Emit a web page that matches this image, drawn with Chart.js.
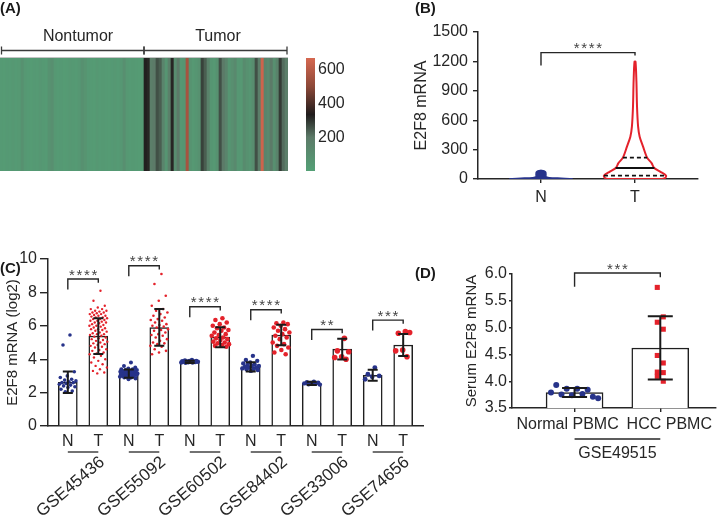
<!DOCTYPE html>
<html>
<head>
<meta charset="utf-8">
<script src="https://cdn.jsdelivr.net/npm/chart.js@4/dist/chart.umd.min.js"></script>
<style>
  body { margin: 0; background: #fff; }
  #wrap { position: relative; width: 720px; height: 517px; overflow: hidden; font-family: "Liberation Sans", Arial, sans-serif; }
  canvas { position: absolute; }
  .tag { position: absolute; font-weight: bold; font-size: 15px; line-height: 16px; color: #1a1a1a; }
</style>
</head>
<body>
<div id="wrap">
  <canvas id="heat" width="360" height="230" style="left:0;top:0"></canvas>
  <canvas id="violin" width="360" height="230" style="left:360px;top:0"></canvas>
  <canvas id="cohort" width="430" height="277" style="left:0;top:240px"></canvas>
  <canvas id="pbmc" width="290" height="277" style="left:430px;top:240px"></canvas>
  <div class="tag" style="left:0;top:0">(A)</div>
  <div class="tag" style="left:415px;top:0">(B)</div>
  <div class="tag" style="left:0;top:260px">(C)</div>
  <div class="tag" style="left:415px;top:265px">(D)</div>
</div>
<script>
// ---- (A) heatmap: E2F8 expression per sample column ----
const nontumorExpr = [
  30, 28, 35, 32, 40, 30, 38, 80, 42, 30, 26, 35,
  32, 45, 36, 30, 75, 90, 40, 32, 35, 28, 30, 42,
  36, 30, 45, 85, 65, 35, 30, 26, 40, 30, 36, 32,
  26, 35, 42, 30, 48, 88, 40, 30, 36, 32, 26, 30
];
const tumorExpr = [
  330, 320, 180, 200, 260, 240, 150, 60, 170, 320, 100, 200,
  50, 60, 560, 70, 40, 60, 80, 280, 240, 160, 60, 40,
  80, 260, 200, 150, 60, 90, 120, 50, 40, 110, 80, 60,
  100, 260, 180, 650, 150, 120, 200, 90, 160, 290, 220, 180
];
const colorTicks = [200, 400, 600];
const colorMax = 670;

// ---- (B) violin: density profile (relative half width) at expression levels ----
const normalLevels = [0, 3, 8, 14, 22, 45, 70, 82, 88];
const normalDensity = [0.9, 1.0, 0.65, 0.26, 0.16, 0.16, 0.15, 0.1, 0.02];
const tumorLevels = [0, 10, 34, 75, 115, 160, 218, 330, 432, 534, 738, 1000, 1197];
const tumorDensity = [0.87, 0.97, 1.0, 0.81, 0.61, 0.54, 0.39, 0.26, 0.15, 0.1, 0.065, 0.045, 0.016];
const tumorQuartiles = [34, 112, 218];
const violinGroups = ['N', 'T'];

// ---- (C) GEO cohorts, N / T bars ----
const cohorts = ['GSE45436', 'GSE55092', 'GSE60502', 'GSE84402', 'GSE33006', 'GSE74656'];
const groupTicks = ['N', 'T'];
const barMeans = [2.62, 5.38, 3.14, 5.9, 3.84, 5.32, 3.54, 5.45, 2.55, 4.6, 3.04, 4.85];
const barSD = [0.65, 1.07, 0.25, 1.1, 0.07, 0.6, 0.27, 0.62, 0.1, 0.62, 0.33, 0.66];
const sigMarks = ['****', '****', '****', '****', '**', '***'];
const bracketTops = [8.8, 9.6, 7.14, 6.96, 5.78, 6.34];

const n45436 = [5.45, 4.85, 3.25, 3.0, 2.9, 2.8, 2.75, 2.7, 2.65, 2.6, 2.6, 2.55, 2.5, 2.45, 2.4, 2.35, 2.3, 2.2, 2.1, 2.05];
const t45436 = [8.1, 7.5, 7.2, 7.1, 7.0, 7.0, 6.9, 6.9, 6.85, 6.8, 6.8, 6.75, 6.7, 6.7, 6.65, 6.6, 6.6, 6.55, 6.5, 6.5,
  6.45, 6.4, 6.4, 6.35, 6.3, 6.3, 6.25, 6.2, 6.2, 6.15, 6.1, 6.05, 6.0, 6.0, 5.95, 5.9, 5.85, 5.8, 5.8, 5.75,
  5.7, 5.65, 5.6, 5.55, 5.5, 5.5, 5.45, 5.4, 5.35, 5.3, 5.25, 5.2, 5.15, 5.1, 5.05, 5.0, 4.95, 4.9, 4.85, 4.8,
  4.75, 4.7, 4.6, 4.55, 4.5, 4.4, 4.35, 4.3, 4.2, 4.1, 4.0, 3.9, 3.8, 3.7, 3.6, 3.5, 3.4, 3.3, 3.2, 3.15];
const n55092 = [3.8, 3.6, 3.5, 3.45, 3.4, 3.4, 3.35, 3.35, 3.3, 3.3, 3.3, 3.25, 3.25, 3.25, 3.2, 3.2, 3.2, 3.2, 3.15,
  3.15, 3.15, 3.15, 3.1, 3.1, 3.1, 3.1, 3.05, 3.05, 3.05, 3.0, 3.0, 3.0, 2.95, 2.95, 2.9, 2.9, 2.85, 2.8];
const t55092 = [9.1, 8.5, 7.8, 7.5, 7.2, 7.0, 6.9, 6.8, 6.7, 6.6, 6.5, 6.4, 6.35, 6.3, 6.2, 6.1, 6.05, 6.0, 5.95, 5.9,
  5.8, 5.75, 5.7, 5.6, 5.5, 5.45, 5.4, 5.3, 5.2, 5.1, 5.0, 4.95, 4.9, 4.8, 4.75, 4.6, 4.5, 4.4, 4.3];
const n60502 = [3.95, 3.92, 3.9, 3.9, 3.88, 3.87, 3.86, 3.85, 3.85, 3.84, 3.83, 3.82, 3.8, 3.8, 3.78];
const t60502 = [6.45, 6.35, 6.2, 6.1, 6.0, 5.9, 5.85, 5.75, 5.7, 5.6, 5.5, 5.45, 5.4, 5.3, 5.25, 5.2, 5.15, 5.05, 5.0,
  4.95, 4.9, 4.85, 4.8, 4.75];
const n84402 = [4.2, 3.95, 3.9, 3.8, 3.75, 3.7, 3.65, 3.6, 3.6, 3.55, 3.5, 3.5, 3.45, 3.4, 3.4, 3.35, 3.3];
const t84402 = [6.2, 6.15, 6.1, 6.0, 5.9, 5.8, 5.7, 5.6, 5.5, 5.4, 5.3, 5.2, 5.0, 4.9, 4.8, 4.7, 4.55, 4.4, 4.3];
const n33006 = [2.65, 2.62, 2.6, 2.58, 2.55, 2.52, 2.5, 2.48];
const t33006 = [5.25, 4.5, 4.45, 4.15, 4.1, 4.0];
const n74656 = [3.5, 3.1, 3.0, 2.95, 2.8];
const t74656 = [5.65, 5.55, 5.6, 4.55, 4.5, 4.15];

// ---- (D) PBMC, GSE49515 ----
const pbmcGroups = ['Normal PBMC', 'HCC PBMC'];
const pbmcSeries = 'GSE49515';
const pbmcMeans = [3.79, 4.62];
const pbmcSD = [0.085, 0.59];
const normalPBMC = [3.79, 3.93, 3.75, 3.86, 3.74, 3.86, 3.76, 3.84, 3.71, 3.68];
const hccPBMC = [5.75, 5.2, 5.1, 4.97, 4.48, 4.34, 4.17, 4.16, 4.09, 4.0];

// ---------------------------------------------------------------
const FONT = '"Liberation Sans", Arial, sans-serif';
const INK = '#262626';
const BLUE = '#27338a';
const RED = '#e4222b';
Chart.defaults.font.family = FONT;
Chart.defaults.color = INK;

const base = { responsive: false, animation: false, events: [], devicePixelRatio: 1,
  plugins: { legend: { display: false }, tooltip: { enabled: false } } };

// green -> grey -> black -> red colour ramp of panel A
const heatStops = [[0, [84, 160, 118]], [200, [92, 122, 104]], [335, [32, 28, 28]], [500, [140, 72, 56]], [670, [214, 104, 80]]];
function heatColor(v) {
  for (let i = 1; i < heatStops.length; i++) {
    const [v1, c1] = heatStops[i], [v0, c0] = heatStops[i - 1];
    if (v <= v1 || i === heatStops.length - 1) {
      const t = Math.max(0, Math.min(1, (v - v0) / (v1 - v0)));
      return 'rgb(' + c0.map((c, k) => Math.round(c + (c1[k] - c) * t)).join(',') + ')';
    }
  }
}

// spreads dots of a group across the bar
const jitter = (i, spread) => ((((i + 1) * 0.618034) % 1) - 0.5) * spread;

function drawStars(ctx, cx, yTop, marks) {
  ctx.font = '15px ' + FONT;
  ctx.textAlign = 'center';
  ctx.textBaseline = 'alphabetic';
  ctx.fillStyle = '#444';
  const n = marks.length;
  for (let k = 0; k < n; k++) ctx.fillText('*', cx + (k - (n - 1) / 2) * 7.5, yTop - 8 + 8.6);
}
function drawBracket(ctx, x1, x2, yTop, dropL, dropR, marks) {
  ctx.save();
  ctx.strokeStyle = INK;
  ctx.lineWidth = 1.4;
  ctx.beginPath();
  ctx.moveTo(x1, yTop + dropL); ctx.lineTo(x1, yTop); ctx.lineTo(x2, yTop); ctx.lineTo(x2, yTop + dropR);
  ctx.stroke();
  drawStars(ctx, (x1 + x2) / 2, yTop, marks);
  ctx.restore();
}
function errorBars(id, means, sds, cap) {
  return {
    id,
    afterDatasetsDraw(chart) {
      const { ctx, scales: { x, y } } = chart;
      ctx.save();
      ctx.strokeStyle = '#1a1a1a';
      ctx.lineWidth = 2;
      means.forEach((m, i) => {
        const px = x.getPixelForValue(i), top = y.getPixelForValue(m + sds[i]), bot = y.getPixelForValue(m - sds[i]);
        ctx.beginPath();
        ctx.moveTo(px, top); ctx.lineTo(px, bot);
        ctx.moveTo(px - cap / 2, top); ctx.lineTo(px + cap / 2, top);
        ctx.moveTo(px - cap / 2, bot); ctx.lineTo(px + cap / 2, bot);
        ctx.stroke();
      });
      ctx.restore();
    }
  };
}
const fixedWidth = w => s => { s.width = w; };
const fixedHeight = h => s => { s.height = h; };
const placeTicks = vals => s => { s.ticks = vals.map(v => ({ value: v })); };

// ================= (A) =================
const samples = nontumorExpr.concat(tumorExpr);
const heatDecor = {
  id: 'heatDecor',
  afterDraw(chart) {
    const { ctx, chartArea: a, scales: { x } } = chart;
    const nN = nontumorExpr.length;
    const split = (x.getPixelForValue(nN - 1) + x.getPixelForValue(nN)) / 2;
    ctx.save();
    // top edge of the map
    ctx.fillStyle = '#c4c4c4';
    ctx.fillRect(a.left, a.top - 1, a.right - a.left, 1);
    // group brackets
    ctx.strokeStyle = '#3a3a3a';
    ctx.lineWidth = 1.3;
    const yb = a.top - 7.5;
    [[a.left + 1.5, split], [split, a.right - 1]].forEach(([l, r]) => {
      ctx.beginPath();
      ctx.moveTo(l, yb); ctx.lineTo(r, yb);
      ctx.moveTo(l, yb - 4); ctx.lineTo(l, yb + 4);
      ctx.moveTo(r, yb - 4); ctx.lineTo(r, yb + 4);
      ctx.stroke();
    });
    ctx.fillStyle = INK;
    ctx.font = '16px ' + FONT;
    ctx.textAlign = 'center';
    ctx.textBaseline = 'middle';
    ctx.fillText('Nontumor', (a.left + split) / 2 + 6, a.top - 21);
    ctx.fillText('Tumor', (split + a.right) / 2 + 2, a.top - 21);
    // colour bar
    const bx = a.right + 18, bw = 9, h = a.bottom - a.top;
    const g = ctx.createLinearGradient(0, a.bottom, 0, a.top);
    heatStops.forEach(([v]) => g.addColorStop(Math.min(1, v / colorMax), heatColor(v)));
    ctx.fillStyle = g;
    ctx.fillRect(bx, a.top, bw, h);
    ctx.fillStyle = INK;
    ctx.textAlign = 'left';
    colorTicks.forEach(v => ctx.fillText(String(v), bx + 12, a.bottom - v / colorMax * h));
    ctx.restore();
  }
};
new Chart(document.getElementById('heat'), {
  type: 'bar',
  data: {
    labels: samples.map((_, i) => 'S' + (i + 1)),
    datasets: [{
      data: samples.map(() => [0, 1]),
      backgroundColor: samples.map(heatColor),
      borderWidth: 0, barPercentage: 1, categoryPercentage: 1
    }]
  },
  options: Object.assign({}, base, {
    layout: { padding: { left: 0, right: 72, top: 58, bottom: 59 } },
    scales: { x: { display: false }, y: { display: false, min: 0, max: 1 } }
  }),
  plugins: [heatDecor]
});

// ================= (B) =================
const halfMax = 0.33;
function densAt(levels, dens, v) {
  for (let i = 1; i < levels.length; i++) {
    if (v <= levels[i]) return dens[i - 1] + (dens[i] - dens[i - 1]) * (v - levels[i - 1]) / (levels[i] - levels[i - 1]);
  }
  return dens[dens.length - 1];
}
function violinPoints(levels, dens, c) {
  const right = levels.map((v, i) => ({ x: c + dens[i] * halfMax, y: v }));
  const left = levels.map((v, i) => ({ x: c - dens[i] * halfMax, y: v })).reverse();
  return right.concat(left, [right[0]]);
}
const quartileSets = tumorQuartiles.map((q, i) => {
  const w = densAt(tumorLevels, tumorDensity, q) * halfMax;
  return { data: [{ x: 2 - w, y: q }, { x: 2 + w, y: q }], showLine: true, pointRadius: 0,
    borderColor: '#111', borderWidth: 1.8, borderDash: i === 1 ? [] : [4, 3] };
});
const violinDecor = {
  id: 'violinDecor',
  afterDraw(chart) {
    const { ctx, scales: { x, y } } = chart;
    drawBracket(ctx, x.getPixelForValue(1), x.getPixelForValue(2), y.getPixelForValue(1290), 13, 3, '****');
  }
};
new Chart(document.getElementById('violin'), {
  type: 'scatter',
  data: {
    datasets: [
      ...quartileSets,
      { data: violinPoints(tumorLevels, tumorDensity, 2), showLine: true, pointRadius: 0, tension: 0.3,
        borderColor: RED, borderWidth: 2, fill: false },
      { data: violinPoints(normalLevels, normalDensity, 1), showLine: true, pointRadius: 0, tension: 0.3,
        borderColor: BLUE, backgroundColor: BLUE, borderWidth: 1.5, fill: 'shape' }
    ]
  },
  options: Object.assign({}, base, {
    layout: { padding: { left: 48, right: 22, top: 32, bottom: 0 } },
    scales: {
      x: {
        type: 'linear', min: 0.33, max: 2.67, offset: false,
        afterBuildTicks: placeTicks([1, 2]), afterFit: fixedHeight(51),
        grid: { display: true, offset: false, drawOnChartArea: false, tickLength: 4, color: INK, lineWidth: 1.4 },
        border: { color: INK, width: 1.5 },
        ticks: { font: { size: 16 }, padding: 5, color: INK, callback: v => violinGroups[v - 1] }
      },
      y: {
        min: 0, max: 1500, afterFit: fixedWidth(70),
        grid: { display: true, drawOnChartArea: false, tickLength: 5, color: INK, lineWidth: 1.4 },
        border: { color: INK, width: 1.5 },
        ticks: { stepSize: 300, font: { size: 16 }, padding: 5, color: INK, callback: v => String(v) },
        title: { display: true, text: 'E2F8 mRNA', font: { size: 16 }, color: INK }
      }
    }
  }),
  plugins: [violinDecor]
});

// ================= (C) =================
const cSamples = [n45436, t45436, n55092, t55092, n60502, t60502, n84402, t84402, n33006, t33006, n74656, t74656];
const dotRadius = [1.8, 1.2, 2, 1.3, 2.2, 2.3, 2.2, 2.3, 2.2, 2.8, 2.4, 2.8];
const dotSets = cSamples.map((vals, k) => ({
  data: vals.map((v, i) => ({ x: k + jitter(i, 0.6), y: v })),
  pointRadius: dotRadius[k], pointBorderWidth: 0,
  backgroundColor: k % 2 ? RED : BLUE, borderColor: k % 2 ? RED : BLUE, order: 1
}));
const cohortDecor = {
  id: 'cohortDecor',
  afterDraw(chart) {
    const { ctx, chartArea: a, scales: { x, y } } = chart;
    ctx.save();
    cohorts.forEach((name, g) => {
      const xN = x.getPixelForValue(2 * g), xT = x.getPixelForValue(2 * g + 1);
      ctx.strokeStyle = INK;
      ctx.lineWidth = 1.3;
      ctx.beginPath();
      ctx.moveTo(xN, a.bottom + 26); ctx.lineTo(xT, a.bottom + 26);
      ctx.stroke();
      ctx.save();
      ctx.translate(xT + 4, a.bottom + 34);
      ctx.rotate(-Math.PI * 0.225);
      ctx.fillStyle = INK;
      ctx.font = '17px ' + FONT;
      ctx.textAlign = 'right';
      ctx.textBaseline = 'middle';
      ctx.fillText(name, 0, 0);
      ctx.restore();
      drawBracket(ctx, xN, xT, y.getPixelForValue(bracketTops[g]), 10.5, 3.7, sigMarks[g]);
    });
    ctx.restore();
  }
};
new Chart(document.getElementById('cohort'), {
  type: 'scatter',
  data: {
    datasets: [
      ...dotSets,
      { type: 'bar', data: barMeans.map((m, k) => ({ x: k, y: m })), barThickness: 19,
        backgroundColor: '#fff', borderColor: '#1f1f1f', borderWidth: 1.5, order: 2 }
    ]
  },
  options: Object.assign({}, base, {
    layout: { padding: { left: 0, right: 7, top: 19, bottom: 0 } },
    scales: {
      x: {
        type: 'linear', min: -0.65, max: 11.65, offset: false,
        afterBuildTicks: placeTicks(barMeans.map((_, k) => k)), afterFit: fixedHeight(91),
        grid: { display: false, offset: false, drawTicks: false },
        border: { color: INK, width: 1.5 },
        ticks: { font: { size: 16 }, padding: 6, color: INK, autoSkip: false, maxRotation: 0,
          callback: v => groupTicks[v % 2] }
      },
      y: {
        min: 0, max: 10, afterFit: fixedWidth(48),
        grid: { display: true, drawOnChartArea: false, tickLength: 8, color: INK, lineWidth: 1.4 },
        border: { color: INK, width: 1.5 },
        ticks: { stepSize: 2, font: { size: 16 }, padding: 3, color: INK },
        title: { display: true, text: 'E2F8 mRNA (log2)', font: { size: 15 }, color: INK, padding: { top: 4, bottom: 2 } }
      }
    }
  }),
  plugins: [errorBars('cohortErr', barMeans, barSD, 10), cohortDecor]
});

// ================= (D) =================
const pbmcDecor = {
  id: 'pbmcDecor',
  afterDraw(chart) {
    const { ctx, chartArea: a, scales: { x, y } } = chart;
    const x0 = x.getPixelForValue(0), x1 = x.getPixelForValue(1);
    ctx.save();
    ctx.fillStyle = INK;
    ctx.font = '16px ' + FONT;
    ctx.textAlign = 'center';
    ctx.textBaseline = 'middle';
    ctx.fillText(pbmcGroups[0], x0 - 7, a.bottom + 17);
    ctx.fillText(pbmcGroups[1], x1 + 9, a.bottom + 17);
    ctx.fillText(pbmcSeries, (x0 + x1) / 2, a.bottom + 46);
    ctx.strokeStyle = INK;
    ctx.lineWidth = 1.3;
    ctx.beginPath();
    ctx.moveTo(x0, a.bottom + 31); ctx.lineTo(x1, a.bottom + 31);
    ctx.stroke();
    ctx.restore();
    drawBracket(ctx, x0, x1, y.getPixelForValue(6.02), 13.7, 4.3, '***');
  }
};
new Chart(document.getElementById('pbmc'), {
  type: 'scatter',
  data: {
    datasets: [
      { data: normalPBMC.map((v, i) => ({ x: (i / (normalPBMC.length - 1) - 0.5) * 0.55, y: v })),
        pointRadius: 3, pointBorderWidth: 0, backgroundColor: BLUE, order: 1 },
      { data: hccPBMC.map((v, i) => ({ x: 1 + (i % 2 ? 0.035 : -0.035), y: v })),
        pointStyle: 'rect', pointRadius: 3.6, pointBorderWidth: 0, backgroundColor: RED, order: 1 },
      { type: 'bar', data: pbmcMeans.map((m, k) => ({ x: k, y: m })), barThickness: 57,
        backgroundColor: '#fff', borderColor: '#1f1f1f', borderWidth: 1.5, order: 2 }
    ]
  },
  options: Object.assign({}, base, {
    layout: { padding: { left: 29, right: 2, top: 34, bottom: 0 } },
    scales: {
      x: {
        type: 'linear', min: -0.73, max: 1.65, offset: false,
        afterBuildTicks: placeTicks([0, 1]), afterFit: fixedHeight(109),
        grid: { display: true, offset: false, drawOnChartArea: false, tickLength: 4, color: INK, lineWidth: 1.4 },
        border: { color: INK, width: 1.5 },
        ticks: { callback: () => '' }
      },
      y: {
        min: 3.5, max: 6, afterFit: fixedWidth(53),
        grid: { display: true, drawOnChartArea: false, tickLength: 3, color: INK, lineWidth: 1.4 },
        border: { color: INK, width: 1.5 },
        ticks: { stepSize: 0.5, font: { size: 16 }, padding: 2, color: INK, callback: v => v.toFixed(1) },
        title: { display: true, text: 'Serum E2F8 mRNA', font: { size: 15 }, color: INK }
      }
    }
  }),
  plugins: [errorBars('pbmcErr', pbmcMeans, pbmcSD, 25), pbmcDecor]
});
</script>
</body>
</html>
